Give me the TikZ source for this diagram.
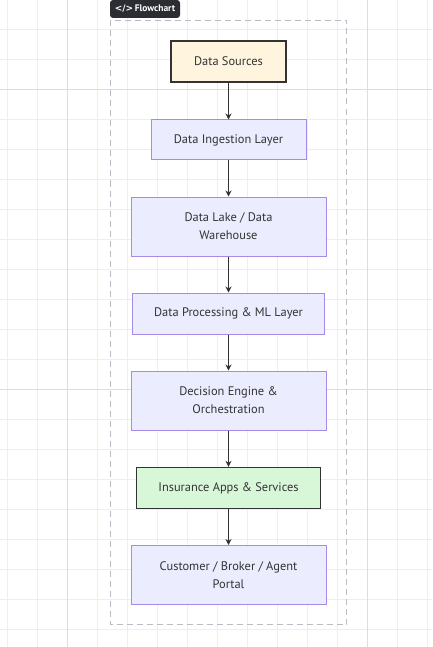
\documentclass[tikz,border=0pt]{standalone}
\usepackage{fontspec}
\setmainfont{PT Sans}
\newfontfamily\iconfont{DejaVu Sans}
\usetikzlibrary{arrows.meta}
\definecolor{gridminor}{HTML}{EEEEEE}
\definecolor{gridmajor}{HTML}{DDDDDD}
\definecolor{framegray}{HTML}{B8BCC4}
\definecolor{badge}{HTML}{2B2D33}
\definecolor{lav}{HTML}{ECECFF}
\definecolor{lavborder}{HTML}{A78BE8}
\definecolor{cream}{HTML}{FFF5DE}
\definecolor{mint}{HTML}{D8F7D8}
\definecolor{ink}{HTML}{333333}
\tikzset{
  box/.style={draw=lavborder, fill=lav, line width=1pt, text=ink, font=\fontsize{12.4}{18}\selectfont, align=center, inner sep=0pt},
  strongbox/.style={box, draw=ink, line width=1.3pt},
  flowarrow/.style={draw=ink, line width=1pt, -{Stealth[length=6pt,width=6pt]}},
}
\begin{document}
\begin{tikzpicture}[x=1pt,y=-1pt]
\useasboundingbox (0,0) rectangle (432,647);
\fill[white] (0,0) rectangle (432,647);
% grid
\foreach \gx in {7.5,37.5,...,432} {\draw[gridminor, line width=0.8pt] (\gx,0) -- (\gx,647);}
\foreach \gy in {29.5,59.5,...,647} {\draw[gridminor, line width=0.8pt] (0,\gy) -- (432,\gy);}
\foreach \gx in {67.5,367.5} {\draw[gridmajor, line width=0.8pt] (\gx,0) -- (\gx,647);}
\foreach \gy in {89.5,389.5} {\draw[gridmajor, line width=0.8pt] (0,\gy) -- (432,\gy);}
% frame
\draw[framegray, line width=1.6pt, dash pattern=on 6pt off 4pt] (110.5,20.5) rectangle (346.5,624.5);
% badge
\node[fill=badge, rounded corners=3pt, minimum width=70pt, minimum height=18pt, inner sep=0pt, text=white, font=\fontsize{9.5}{10}\selectfont\bfseries] (badge) at (145,9) {{\iconfont\fontsize{9}{10}\selectfont</>}\,Flowchart};
% nodes
\node[strongbox, fill=cream, minimum width=115pt, minimum height=41pt] (n1) at (228.5,61.5) {Data Sources};
\node[box, minimum width=155pt, minimum height=40pt] (n2) at (228.5,140) {Data Ingestion Layer};
\node[box, minimum width=195pt, minimum height=59pt] (n3) at (228.5,226.5) {Data Lake / Data\\Warehouse};
\node[box, minimum width=192pt, minimum height=41pt] (n4) at (228.5,313.5) {Data Processing \& ML Layer};
\node[box, minimum width=195pt, minimum height=59pt] (n5) at (228.5,400.5) {Decision Engine \&\\Orchestration};
\node[strongbox, fill=mint, minimum width=184pt, minimum height=41pt] (n6) at (228.5,488) {Insurance Apps \& Services};
\node[box, minimum width=195pt, minimum height=59pt] (n7) at (228.5,575) {Customer / Broker / Agent\\Portal};
% arrows
\draw[flowarrow] (n1) -- (n2);
\draw[flowarrow] (n2) -- (n3);
\draw[flowarrow] (n3) -- (n4);
\draw[flowarrow] (n4) -- (n5);
\draw[flowarrow] (n5) -- (n6);
\draw[flowarrow] (n6) -- (n7);
\end{tikzpicture}
\end{document}
